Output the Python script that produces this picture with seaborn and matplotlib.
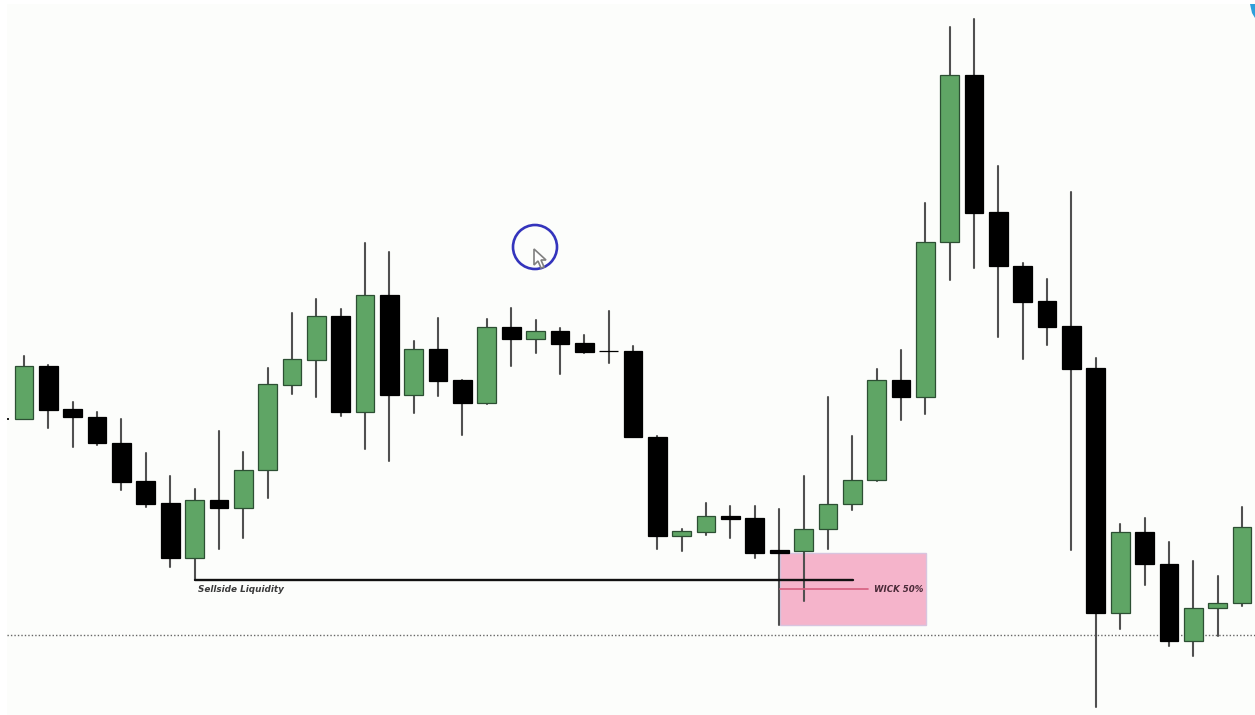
import matplotlib
matplotlib.use("Agg")
import matplotlib.pyplot as plt
from matplotlib.patches import Circle, Polygon, Rectangle
from matplotlib.transforms import Affine2D
import numpy as np
import pandas as pd
import seaborn as sns

# Candle values (price units, arbitrary scale)
highs = [359, 350, 313, 303, 296, 262, 239, 226, 284, 263, 347, 402, 416, 406, 472, 463, 374,
         397, 335, 396, 407, 395, 387, 380, 404, 369, 279, 186, 212, 209, 209, 206, 239, 318,
         279, 346, 365, 512, 688, 696, 549, 452, 436, 523, 357, 191, 197, 173, 154, 139, 208]
lows = [296, 287, 268, 270, 225, 208, 148, 135, 166, 177, 217, 321, 318, 299, 266, 254, 302,
        319, 280, 311, 349, 362, 341, 362, 352, 278, 166, 164, 180, 177, 157, 90, 114, 166,
        205, 234, 295, 301, 435, 447, 378, 356, 370, 165, 8, 86, 130, 69, 59, 79, 109]
opens = [296, 349, 306, 298, 272, 234, 212, 157, 215, 207, 245, 330, 355, 399, 303, 420, 320,
         366, 335, 312, 388, 376, 384, 372, 364, 364, 278, 179, 183, 199, 197, 165, 164, 186,
         211, 235, 335, 318, 473, 640, 503, 449, 414, 389, 347, 102, 183, 151, 74, 107, 112]
closes = [349, 305, 298, 272, 233, 211, 157, 215, 207, 245, 331, 356, 399, 303, 420, 320, 366,
          334, 312, 388, 376, 384, 371, 363, 364, 278, 179, 184, 199, 196, 162, 162, 186, 211,
          235, 335, 318, 473, 640, 502, 449, 413, 388, 346, 102, 183, 151, 74, 107, 112, 188]

sellside_label = "Sellside Liquidity"
wick_label = "WICK 50%"
sellside_level = 135
wick_level = 126
reference_level = 80
zone_top = 162
zone_bottom = 90

GREEN = "#5FA565"
GREEN_EDGE = "#2C4F33"
BLACK = "#000000"
WICK = "#505050"
W, H = 1255, 715

sns.set_theme(style="white")
fig = plt.figure(figsize=(W / 100, H / 100), dpi=100, facecolor="white")
ax = fig.add_axes([7 / W, 0, (W - 7) / W, 711 / H], facecolor="#FCFDFB")

df = pd.DataFrame({"idx": np.arange(len(opens)), "open": opens, "close": closes,
                   "high": highs, "low": lows})
df["bottom"] = df[["open", "close"]].min(axis=1)
df["height"] = (df["close"] - df["open"]).abs()
df["up"] = df["close"] > df["open"]

# wicks
long_df = df.melt(id_vars="idx", value_vars=["high", "low"], value_name="price")
sns.lineplot(data=long_df, x="idx", y="price", units="idx", estimator=None, color=WICK,
             linewidth=1.5, ax=ax, zorder=2, legend=False)

# bodies
for up, color, edge in [(True, GREEN, GREEN_EDGE), (False, BLACK, BLACK)]:
    sub = df[df["up"] == up]
    sns.barplot(data=sub, x="idx", y="height", native_scale=True, width=0.77, errorbar=None,
                color=color, saturation=1, edgecolor=edge, linewidth=0.9,
                bottom=sub["bottom"].to_numpy(), ax=ax, zorder=3)

# left and right edges of the price window, in candle units
ax.set_xlim((7 - 24) / 24.36, (W - 24) / 24.36)
ax.set_ylim(0, 711)
ax.set_axis_off()
bg = Rectangle((0, 0), 1, 1, transform=ax.transAxes, facecolor="#FCFDFB", edgecolor="none", zorder=0)
ax.add_patch(bg)

# pink wick zone and lines
ax.add_patch(Rectangle((31.03, zone_bottom), 6.0, zone_top - zone_bottom, facecolor="#F5B4CB",
                       edgecolor="#D8C4DF", linewidth=1, zorder=1))
ax.plot([7, 34.03], [sellside_level] * 2, color="#111111", lw=1.7, zorder=4)
ax.plot([31.03, 34.65], [wick_level] * 2, color="#D65F80", lw=1.2, zorder=4)
ax.plot([-1, 52], [reference_level] * 2, color="#666666", lw=1, ls=(0, (1, 1.5)), zorder=1.5)

ax.text(7.13, 125.5, sellside_label, fontsize=6.4, fontstyle="italic", fontweight="bold",
        color="#3A3A3A", va="center", ha="left", zorder=6)
ax.text(34.9, 126, wick_label, fontsize=6.2, fontstyle="italic", fontweight="bold",
        color="#4A2A38", va="center", ha="left", zorder=6)

# screen overlay items, in image pixels
px = Affine2D().scale(1, -1).translate(0, H)
fig.add_artist(Circle((535, 247), 22, transform=px, fill=False, edgecolor="#3434BC", linewidth=1.9))
fig.add_artist(Polygon([(534, 249), (534, 265), (538, 261), (541, 268), (544, 267), (541, 260),
                        (546, 260)], closed=True, transform=px, facecolor="white",
                       edgecolor="#808080", linewidth=1.2))
fig.add_artist(Polygon([(1250, 4), (1255, 4), (1255, 18), (1252, 13)], closed=True, transform=px,
                       facecolor="#2E9FDB", edgecolor="none"))
fig.add_artist(Rectangle((7, 418), 2, 2, transform=px, facecolor="#222222", edgecolor="none"))

fig.savefig("out.png", dpi=100, facecolor="white")
